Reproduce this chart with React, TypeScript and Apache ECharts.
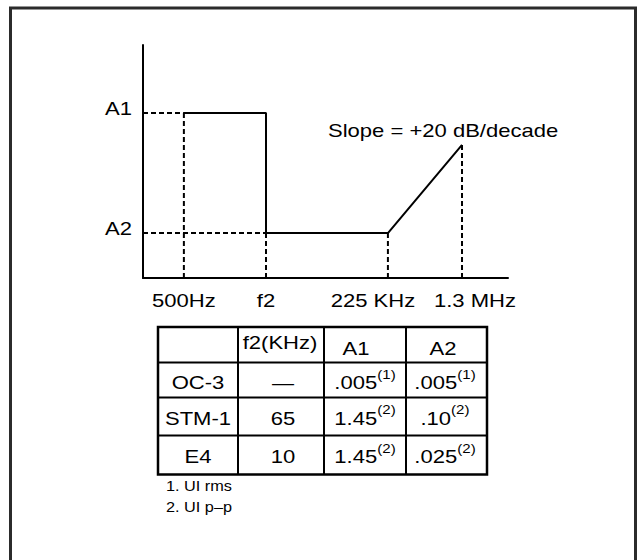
import React, { useEffect, useRef } from 'react';
import * as echarts from 'echarts';

// ---- chart data (schematic jitter-tolerance mask, abstract log-frequency units) ----
const freqLabels = ['500Hz', 'f2', '225 KHz', '1.3 MHz'];
const freqValues = [11.2, 33.7, 67.1, 87.4];
const levelLabels = ['A1', 'A2'];
const levelValues = [70.8, 19.3];
const slopeEndValue = 57.1;
const slopeLabel = 'Slope = +20 dB/decade';

// ---- table data ----
const tableHeader = ['', 'f2(KHz)', 'A1', 'A2'];
const standards = ['OC-3', 'STM-1', 'E4'];
const f2Values = ['\u2014', '65', '10'];
const a1Values = ['.005', '1.45', '1.45'];
const a1Notes = ['1', '2', '2'];
const a2Values = ['.005', '.10', '.025'];
const a2Notes = ['1', '2', '2'];
const footnotes = ['1. UI rms', '2. UI p\u2013p'];

// ---- layout / style constants ----
const FONT = '"Liberation Sans", Arial, Helvetica, sans-serif';
const SX = 1.16;
const FS = 19;
const colX = [158, 238, 324, 406, 487];
const rowY = [327, 362.5, 397.5, 435.5, 474.5];
const headerX = [198, 280, 356, 443];
const headerY = [344, 342, 348, 348];
const cellX = [198, 283, 365, 445];
const cellY = [382.5, 418, 456.5];
const xLabelShift = [0, 0, -15, 13];

function txt(x: number, y: number, text: string, align: string, size: number, extra: any = {}, sx: number = SX) {
  return {
    type: 'text',
    x,
    y,
    scaleX: sx,
    silent: true,
    z: 10,
    style: {
      text,
      x: 0,
      y: 0,
      align,
      textAlign: align,
      verticalAlign: 'middle',
      textVerticalAlign: 'middle',
      fill: '#000',
      fontSize: size,
      fontFamily: FONT,
      ...extra,
    },
  };
}

function supText(x: number, y: number, main: string, note: string) {
  return txt(x, y, `${main}{sup|(${note})}`, 'center', FS, {
    lineHeight: 30,
    rich: {
      sup: {
        fontSize: 13,
        fontFamily: FONT,
        lineHeight: 16,
        verticalAlign: 'top',
        fill: '#000',
      },
    },
  });
}

export default function App() {
  const ref = useRef<HTMLDivElement>(null);

  useEffect(() => {
    const el = ref.current!;
    const chart = echarts.init(el, null, { renderer: 'svg' });
    const [f500, f2, f225, f13] = freqValues;
    const [a1, a2] = levelValues;
    const profile = [
      [f500, a1],
      [f2, a1],
      [f2, a2],
      [f225, a2],
      [f13, slopeEndValue],
    ];
    const guides = [
      [[0, a1], [f500, a1]],
      [[0, a2], [f2, a2]],
      [[f500, 0], [f500, a1]],
      [[f2, 0], [f2, a2]],
      [[f225, 0], [f225, a2]],
      [[f13, 0], [f13, slopeEndValue]],
    ];
    const axisCommon = {
      type: 'value',
      min: 0,
      max: 100,
      axisLine: { show: true, onZero: false, lineStyle: { color: '#000', width: 2 } },
      axisTick: { show: false },
      axisLabel: { show: false },
      splitLine: { show: false },
    };
    chart.setOption({
      animation: false,
      backgroundColor: '#fff',
      grid: { left: 143, top: 45, width: 365, height: 233, containLabel: false },
      xAxis: axisCommon,
      yAxis: axisCommon,
      series: [
        ...guides.map((d) => ({
          type: 'line',
          data: d,
          symbol: 'none',
          silent: true,
          z: 1,
          lineStyle: { color: '#000', width: 2, type: [5, 3] },
        })),
        {
          type: 'line',
          data: profile,
          symbol: 'none',
          silent: true,
          z: 2,
          lineStyle: { color: '#000', width: 2 },
        },
      ],
    });

    const toPx = (v: number[]) => chart.convertToPixel({ gridIndex: 0 }, v) as number[];
    const graphics: any[] = [];

    // outer frame
    graphics.push({
      type: 'rect',
      silent: true,
      shape: { x: 10.5, y: 8, width: 625, height: 580 },
      style: { fill: 'none', stroke: '#2b2b2b', lineWidth: 3 },
    });

    // x labels
    freqLabels.forEach((lab, i) => {
      const p = toPx([freqValues[i], 0]);
      graphics.push(txt(p[0] + xLabelShift[i], p[1] + 22, lab, 'center', FS));
    });
    // y labels
    levelLabels.forEach((lab, i) => {
      const p = toPx([0, levelValues[i]]);
      graphics.push(txt(p[0] - 11, p[1] - 5, lab, 'right', FS));
    });
    // slope annotation
    const sp = toPx([f13, slopeEndValue]);
    graphics.push(txt(sp[0] - 134, sp[1] - 15, slopeLabel, 'left', FS));

    // table frame
    graphics.push({
      type: 'rect',
      silent: true,
      shape: { x: colX[0], y: rowY[0], width: colX[4] - colX[0], height: rowY[4] - rowY[0] },
      style: { fill: 'none', stroke: '#000', lineWidth: 2.5 },
    });
    for (let i = 1; i < colX.length - 1; i++) {
      graphics.push({
        type: 'line',
        silent: true,
        shape: { x1: colX[i], y1: rowY[0], x2: colX[i], y2: rowY[4] },
        style: { stroke: '#000', lineWidth: 2 },
      });
    }
    for (let j = 1; j < rowY.length - 1; j++) {
      graphics.push({
        type: 'line',
        silent: true,
        shape: { x1: colX[0], y1: rowY[j], x2: colX[4], y2: rowY[j] },
        style: { stroke: '#000', lineWidth: 2 },
      });
    }
    tableHeader.forEach((h, i) => {
      if (h) graphics.push(txt(headerX[i], headerY[i], h, 'center', FS));
    });
    standards.forEach((s, r) => {
      graphics.push(txt(cellX[0], cellY[r], s, 'center', FS));
      graphics.push(txt(cellX[1], cellY[r], f2Values[r], 'center', FS));
      graphics.push(supText(cellX[2], cellY[r], a1Values[r], a1Notes[r]));
      graphics.push(supText(cellX[3], cellY[r], a2Values[r], a2Notes[r]));
    });
    footnotes.forEach((f, i) => {
      graphics.push(txt(166, 486 + i * 21, f, 'left', 15.5, {}, 1.05));
    });

    chart.setOption({ graphic: graphics });

    return () => chart.dispose();
  }, []);

  return (
    <div
      ref={ref}
      style={{ position: 'absolute', left: 0, top: 0, width: 641, height: 560, background: '#fff' }}
    />
  );
}
